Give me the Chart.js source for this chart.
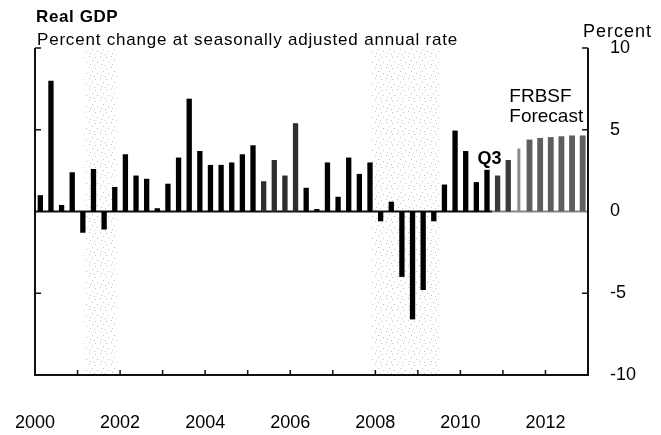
<!DOCTYPE html>
<html><head><meta charset="utf-8">
<script src="https://cdn.jsdelivr.net/npm/chart.js@4.4.0/dist/chart.umd.min.js"></script>
<style>html,body{margin:0;padding:0;background:#fff;}#wrap{width:661px;height:435px;position:relative}</style>
</head><body><div id="wrap"><canvas id="c" width="661" height="435"></canvas></div>
<script>
// ---------- data ----------
const chartTitle = 'Real GDP';
const chartSubtitle = 'Percent change at seasonally adjusted annual rate';
const unitLabel = 'Percent';
const forecastLabel = ['FRBSF', 'Forecast'];
const latestLabel = 'Q3';
const firstYear = 2000;
// Quarterly real GDP growth, 2000Q1 .. 2010Q3 (actual)
const actualGrowth = [
  1.0, 8.0, 0.4, 2.4,     // 2000
  -1.3, 2.6, -1.1, 1.5,   // 2001
  3.5, 2.2, 2.0, 0.2,     // 2002
  1.7, 3.3, 6.9, 3.7,     // 2003
  2.85, 2.85, 3.0, 3.5,   // 2004
  4.05, 1.85, 3.15, 2.2,  // 2005
  5.4, 1.45, 0.15, 3.0,   // 2006
  0.9, 3.3, 2.3, 3.0,     // 2007
  -0.6, 0.6, -4.0, -6.6,  // 2008
  -4.8, -0.6, 1.65, 4.95, // 2009
  3.7, 1.8, 2.55          // 2010 Q1-Q3
];
// FRBSF forecast, 2010Q4 .. 2012Q4
const forecastGrowth = [2.2, 3.15, 3.85, 4.4, 4.5, 4.55, 4.6, 4.65, 4.65];
const quarterLabels = [];
for (let y = firstYear; y <= 2012; y++) for (let q = 1; q <= 4; q++) quarterLabels.push(y + 'Q' + q);
const greyedActual = ['2005Q2', '2005Q3', '2005Q4', '2006Q1'];
const xTickLabels = ['2000', '2002', '2004', '2006', '2008', '2010', '2012'];
const yTickValues = [-10, -5, 0, 5, 10];
const recessions = [[2001 + 2 / 12, 2001 + 11 / 12], [2007 + 11 / 12, 2009 + 6 / 12]];

// ---------- helpers ----------
const FONT = '"Liberation Sans", Arial, sans-serif';
function quarterX(label) {
  const y = parseInt(label.slice(0, 4), 10), q = parseInt(label.slice(5), 10);
  return y + (q - 0.5) / 4;
}
const actualPts = actualGrowth.map((v, i) => ({ x: quarterX(quarterLabels[i]), y: v }));
const fcStart = actualGrowth.length;
const fcPts = forecastGrowth.map((v, i) => ({ x: quarterX(quarterLabels[fcStart + i]), y: v }));

function stipplePattern(ctx) {
  const c = document.createElement('canvas');
  c.width = 11; c.height = 11;
  const g = c.getContext('2d');
  g.fillStyle = 'rgba(120,120,120,0.45)';
  [[1, 1], [7, 2], [4, 5], [9, 7], [2, 9], [6, 10]].forEach(([x, y]) => g.fillRect(x, y, 1, 1));
  return ctx.createPattern(c, 'repeat');
}

const decor = {
  id: 'decor',
  beforeDatasetsDraw(chart) {
    const { ctx, chartArea: a, scales: { x, y } } = chart;
    ctx.save();
    ctx.fillStyle = stipplePattern(ctx);
    recessions.forEach(([s, e]) => {
      const x0 = x.getPixelForValue(s), x1 = x.getPixelForValue(e);
      ctx.fillRect(x0, a.top, x1 - x0, a.bottom - a.top);
    });
    // zero line
    const y0 = y.getPixelForValue(0);
    const xf = x.getPixelForValue(quarterX(quarterLabels[fcStart]) - 0.125);
    ctx.lineWidth = 2;
    ctx.strokeStyle = '#111';
    ctx.beginPath(); ctx.moveTo(a.left, y0); ctx.lineTo(xf, y0); ctx.stroke();
    ctx.strokeStyle = '#888';
    ctx.beginPath(); ctx.moveTo(xf, y0); ctx.lineTo(a.right, y0); ctx.stroke();
    ctx.restore();
  },
  afterDraw(chart) {
    const { ctx, chartArea: a, scales: { x, y } } = chart;
    ctx.save();
    ctx.strokeStyle = '#111';
    ctx.lineWidth = 2;
    ctx.beginPath();
    ctx.moveTo(a.left, a.top); ctx.lineTo(a.left, a.bottom); ctx.lineTo(a.right, a.bottom); ctx.lineTo(a.right, a.top);
    ctx.stroke();
    ctx.lineWidth = 1.5;
    // y ticks (inward) on both sides
    yTickValues.forEach(v => {
      if (v === 0 || v === -10) return;
      const py = y.getPixelForValue(v);
      ctx.beginPath(); ctx.moveTo(a.left, py); ctx.lineTo(a.left + 6, py); ctx.stroke();
      ctx.beginPath(); ctx.moveTo(a.right, py); ctx.lineTo(a.right - 6, py); ctx.stroke();
    });
    // x ticks (inward) at year boundaries
    for (let yr = 2001; yr <= 2012; yr++) {
      const px = x.getPixelForValue(yr);
      ctx.beginPath(); ctx.moveTo(px, a.bottom); ctx.lineTo(px, a.bottom - 5); ctx.stroke();
    }
    // texts
    ctx.fillStyle = '#000';
    ctx.textBaseline = 'alphabetic';
    ctx.textAlign = 'left';
    ctx.letterSpacing = '0.6px';
    ctx.font = 'bold 17px ' + FONT;
    ctx.fillText(chartTitle, 36, 22);
    ctx.letterSpacing = '0.8px';
    ctx.font = '17px ' + FONT;
    ctx.fillText(chartSubtitle, 37, 45);
    ctx.letterSpacing = '1px';
    ctx.font = '18px ' + FONT;
    ctx.fillText(unitLabel, 583, 37);
    ctx.letterSpacing = '0px';
    ctx.font = '19px ' + FONT;
    const fx = x.getPixelForValue(2011.15);
    ctx.fillText(forecastLabel[0], fx, y.getPixelForValue(6.7));
    ctx.fillText(forecastLabel[1], fx, y.getPixelForValue(5.5));
    ctx.font = 'bold 18px ' + FONT;
    ctx.fillText(latestLabel, x.getPixelForValue(2010.4), y.getPixelForValue(2.9));
    ctx.restore();
  }
};

new Chart(document.getElementById('c'), {
  type: 'bar',
  data: {
    datasets: [
      {
        label: 'Actual', data: actualPts, grouped: false,
        backgroundColor: c => greyedActual.includes(quarterLabels[c.dataIndex]) ? '#2e2e2e' : '#000',
        barPercentage: 0.5, categoryPercentage: 1
      },
      {
        label: 'Forecast (near)', data: fcPts.slice(0, 2), grouped: false,
        backgroundColor: '#3a3a3a', barPercentage: 0.5, categoryPercentage: 1
      },
      {
        label: 'Forecast (edge)', data: fcPts.slice(2, 3), grouped: false,
        backgroundColor: '#8a8a8a', barPercentage: 0.28, categoryPercentage: 1
      },
      {
        label: 'Forecast', data: fcPts.slice(3), grouped: false,
        backgroundColor: '#5e5e5e', barPercentage: 0.55, categoryPercentage: 1
      }
    ]
  },
  options: {
    responsive: false, animation: false, devicePixelRatio: 1,
    layout: { padding: { top: 48, left: 35, right: 0, bottom: 0 } },
    plugins: { legend: { display: false }, tooltip: { enabled: false }, title: { display: false } },
    scales: {
      x: {
        type: 'linear', min: 2000, max: 2013, offset: false,
        grid: { display: false, drawTicks: false, offset: false },
        border: { display: false },
        ticks: {
          stepSize: 1, autoSkip: false, maxRotation: 0, padding: 37, color: '#000',
          font: { size: 18, family: FONT },
          callback: v => xTickLabels.includes(String(v)) ? String(v) : ''
        },
        afterFit: s => { s.height = 60; s.paddingLeft = 0; s.paddingRight = 0; }
      },
      y: {
        position: 'right', min: -10, max: 10,
        grid: { display: false, drawTicks: false },
        border: { display: false },
        ticks: {
          stepSize: 5, padding: 22, color: '#000',
          font: { size: 18, family: FONT },
          callback: v => yTickValues.includes(v) ? String(v) : ''
        },
        afterFit: s => { s.width = 73; s.paddingTop = 0; s.paddingBottom = 0; }
      }
    }
  },
  plugins: [decor]
});
</script>
</body></html>
